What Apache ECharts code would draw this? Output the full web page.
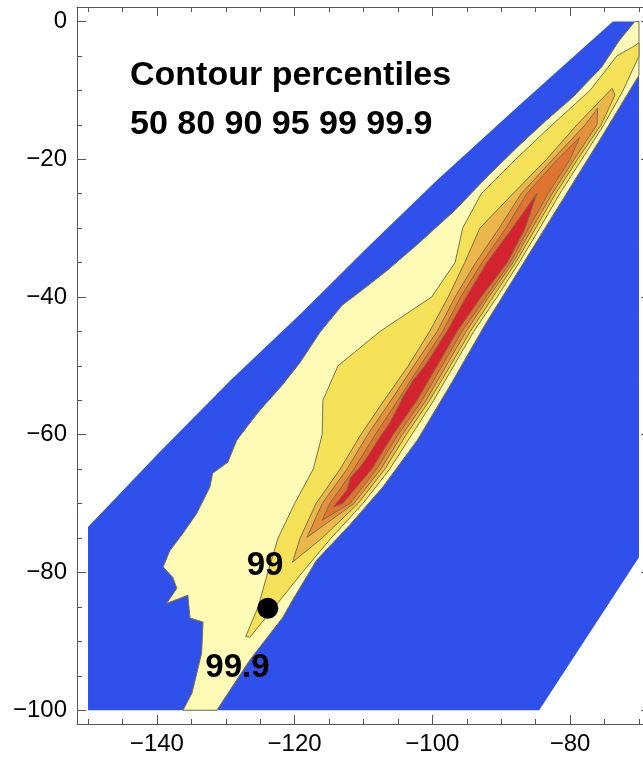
<!DOCTYPE html>
<html>
<head>
<meta charset="utf-8">
<script src="https://cdn.jsdelivr.net/npm/echarts@6/dist/echarts.min.js"></script>
<style>
  html, body { margin: 0; padding: 0; background: #fff; }
  #chart { width: 643px; height: 758px; }
</style>
</head>
<body>
<div id="chart"></div>
<script>
// axis ticks
var xMajor = [-140, -120, -100, -80];
var xMinor = [-150, -145, -135, -130, -125, -115, -110, -105, -95, -90, -85, -75, -70];
var yMajor = [0, -20, -40, -60, -80, -100];
var yMinor = [-5, -10, -15, -25, -30, -35, -45, -50, -55, -65, -70, -75, -85, -90, -95];

// data domain (blue, outside 99.9)
var domain = [[-150,-73.4],[-139.6,-62.5],[-129.3,-52.1],[-119.2,-42.5],[-109.1,-32.5],[-99.3,-23.0],
  [-87.3,-12.1],[-73.8,0],[-70,0],[-70,-77.8],[-84.5,-100],[-150,-100]];

// 99.9 percentile contour
var p999 = [[-70.6,0],[-70,0],[-70,-7.8],[-75.7,-17.2],[-79.3,-23.0],[-86.8,-35.1],[-92.4,-44.1],[-97.4,-52.8],
  [-102.2,-60.8],[-107.2,-67.6],[-112.0,-73.1],[-116.8,-78.2],[-120.3,-84.0],[-121.7,-86.5],[-126.5,-92.7],
  [-131.3,-100],[-136.2,-100],[-134.9,-97.5],[-134.2,-94.6],[-133.5,-91.7],[-133.3,-87.2],[-135.2,-86.6],
  [-135.5,-83.3],[-138.6,-84.5],[-137.1,-82.3],[-137.7,-80.7],[-139.1,-79.2],[-138.1,-76.8],[-136.2,-74.3],
  [-134.2,-71.4],[-132.3,-67.6],[-131.9,-65.6],[-129.7,-64.0],[-128.4,-60.8],[-126.5,-58.3],[-125.0,-56.4],
  [-121.8,-52.8],[-119.2,-49.5],[-116.3,-45.1],[-113.1,-41.2],[-109.8,-38.7],[-106.5,-36.1],[-102.1,-32.3],
  [-96.7,-27.4],[-92.1,-22.6],[-87.3,-17.9],[-83.4,-14.3],[-79.6,-11.0],[-75.4,-6.6],[-72.8,-2.7]];

// 99 percentile contour
var p99Left = [[-70,-3.1],[-70.9,-3.7],[-73.2,-5],[-77.1,-10],[-82.6,-15],[-87.9,-20],[-92.9,-25],[-95.6,-30],
  [-96.7,-35],[-100.1,-40],[-107.6,-45],[-113.7,-50],[-115.9,-55],[-116.0,-60],[-117.3,-65],[-120.0,-70],
  [-122.4,-75],[-123.9,-80],[-125.3,-85],[-127.1,-89.3]];
var p99Right = [[-126.5,-89.4],[-122.9,-85],[-118.9,-80],[-114.7,-75],[-110.1,-70],[-106.2,-65],[-103.0,-60],
  [-99.8,-55],[-96.9,-50],[-94.0,-45],[-90.6,-40],[-87.4,-35],[-84.4,-30],[-81.5,-25],[-78.3,-20],[-75.1,-15],
  [-72.3,-10],[-70,-5]];

// 95 percentile contour
var p95Left = [[-73.9,-9.7],[-79.0,-15],[-83.4,-20],[-88.3,-25],[-93.1,-30],[-95.3,-35],[-97.7,-40],[-100.4,-45],
  [-103.5,-50],[-107.0,-55],[-110.4,-60],[-113.4,-65],[-116.9,-70],[-119.2,-75],[-120.3,-78.5]];
var p95Right = [[-116.0,-75],[-110.8,-70],[-106.9,-65],[-103.8,-60],[-100.4,-55],[-97.4,-50],[-94.5,-45],
  [-91.2,-40],[-87.9,-35],[-85.0,-30],[-82.1,-25],[-78.9,-20],[-75.5,-15],[-73.5,-10.7]];

// 90 percentile contour
var p90Left = [[-76.0,-12.6],[-77.8,-15],[-82.5,-20],[-87.1,-25],[-90.3,-30],[-93.7,-35],[-96.7,-40],[-99.3,-45],
  [-102.7,-50],[-106.0,-55],[-109.4,-60],[-112.4,-65],[-116.0,-70],[-118.2,-74.9]];
var p90Right = [[-111.4,-70],[-107.5,-65],[-104.4,-60],[-100.9,-55],[-98.0,-50],[-95.1,-45],[-91.8,-40],
  [-88.3,-35],[-85.5,-30],[-82.6,-25],[-79.4,-20],[-76.1,-15]];

// 80 percentile contour
var p80Left = [[-78.6,-16.8],[-81.8,-20],[-86.3,-25],[-89.3,-30],[-92.8,-35],[-95.9,-40],[-98.5,-45],[-101.8,-50],
  [-105.0,-55],[-108.3,-60],[-111.4,-65],[-114.9,-70],[-116.0,-72.4]];
var p80Right = [[-112.0,-70],[-108.1,-65],[-105.0,-60],[-101.5,-55],[-98.6,-50],[-95.7,-45],[-92.2,-40],
  [-88.7,-35],[-86.0,-30],[-83.2,-25],[-80.0,-20]];

// 50 percentile contour
var p50Left = [[-84.8,-24.9],[-88.4,-30],[-92.1,-35],[-95.1,-40],[-97.9,-45],[-101.1,-50],[-102.8,-52.1],
  [-104.3,-54.5],[-104.7,-55.4],[-106.2,-58.3],[-107.6,-60.3],[-109.1,-62.7],[-110.5,-64.7],[-111.9,-66.2],
  [-112.4,-68.0],[-114.0,-70],[-114.4,-70.5]];
var p50Right = [[-113.0,-70],[-108.8,-65],[-105.7,-60],[-102.2,-55],[-99.3,-50],[-96.4,-45],[-92.9,-40],
  [-89.1,-35],[-86.5,-30]];

// marked point and its labels
var point = [[-123.9, -85.2]];
var pointLabels = [
  { name: '99', value: [-124.3, -79.1] },
  { name: '99.9', value: [-128.3, -93.9] }
];

var edge = '#7b7248';
var layers = [
  { pts: domain, fill: '#2f50eb', stroke: null },
  { pts: p999, fill: '#fdfbb6', stroke: edge },
  { pts: p99Left.concat(p99Right), fill: '#f5e157', stroke: edge },
  { pts: p95Left.concat(p95Right), fill: '#ecb74a', stroke: edge },
  { pts: p90Left.concat(p90Right), fill: '#e5903a', stroke: edge },
  { pts: p80Left.concat(p80Right), fill: '#df7330', stroke: edge },
  { pts: p50Left.concat(p50Right), fill: '#d4232e', stroke: edge }
];

var font = '"Liberation Sans", Arial, sans-serif';
var minus = function (v) { return String(v).replace('-', '\u2212'); };
var xRange = { min: -151.6, max: -68.4 };
var yRange = { min: -102, max: 2.1 };
var frame = '#555';

function xAx(pos, values, len, line, labels) {
  return {
    type: 'value', position: pos, min: xRange.min, max: xRange.max,
    splitLine: { show: false },
    axisLine: { show: line, onZero: false, lineStyle: { color: frame, width: 1 } },
    axisTick: { show: true, inside: true, length: len, customValues: values, lineStyle: { color: frame } },
    axisLabel: labels ? { show: true, customValues: values, formatter: minus, color: '#000',
      fontSize: 24, fontFamily: font, margin: 8 } : { show: false }
  };
}
function yAx(pos, values, len, line, labels) {
  return {
    type: 'value', position: pos, min: yRange.min, max: yRange.max,
    splitLine: { show: false },
    axisLine: { show: line, onZero: false, lineStyle: { color: frame, width: 1 } },
    axisTick: { show: true, inside: true, length: len, customValues: values, lineStyle: { color: frame } },
    axisLabel: labels ? { show: true, customValues: values, formatter: minus, color: '#000',
      fontSize: 24, fontFamily: font, margin: 10 } : { show: false }
  };
}

var chart = echarts.init(document.getElementById('chart'), null, { renderer: 'canvas' });
chart.setOption({
  animation: false,
  backgroundColor: '#fff',
  grid: { left: 77, top: 7, width: 573, height: 717, outerBoundsMode: 'none', containLabel: false },
  xAxis: [
    xAx('bottom', xMajor, 9, true, true),
    xAx('bottom', xMinor, 5, false, false),
    xAx('top', xMajor, 9, true, false),
    xAx('top', xMinor, 5, false, false)
  ],
  yAxis: [
    yAx('left', yMajor, 9, true, true),
    yAx('left', yMinor, 5, false, false),
    yAx('right', yMajor, 9, true, false),
    yAx('right', yMinor, 5, false, false)
  ],
  graphic: [
    { type: 'text', x: 130, y: 76, style: { text: 'Contour percentiles', font: 'bold 34px ' + font,
      fill: '#000', textVerticalAlign: 'middle' } },
    { type: 'text', x: 130, y: 125, style: { text: '50 80 90 95 99 99.9', font: 'bold 34px ' + font,
      fill: '#000', textVerticalAlign: 'middle' } }
  ],
  series: [
    {
      type: 'custom',
      xAxisIndex: 0, yAxisIndex: 0,
      silent: true,
      data: layers.map(function (l) { return l.pts[0]; }),
      renderItem: function (params, api) {
        var l = layers[params.dataIndex];
        return {
          type: 'polygon',
          shape: { points: l.pts.map(function (p) { return api.coord(p); }) },
          style: { fill: l.fill, stroke: l.stroke, lineWidth: l.stroke ? 1 : 0 }
        };
      }
    },
    {
      type: 'scatter',
      xAxisIndex: 0, yAxisIndex: 0,
      data: point,
      symbolSize: 21,
      itemStyle: { color: '#000', opacity: 1 },
      z: 5
    },
    {
      type: 'scatter',
      xAxisIndex: 0, yAxisIndex: 0,
      data: pointLabels,
      symbolSize: 0,
      itemStyle: { opacity: 1 },
      label: { show: true, position: 'inside', formatter: '{b}', color: '#000', opacity: 1,
        fontSize: 33, fontWeight: 'bold', fontFamily: font },
      z: 6
    }
  ]
});
</script>
</body>
</html>
